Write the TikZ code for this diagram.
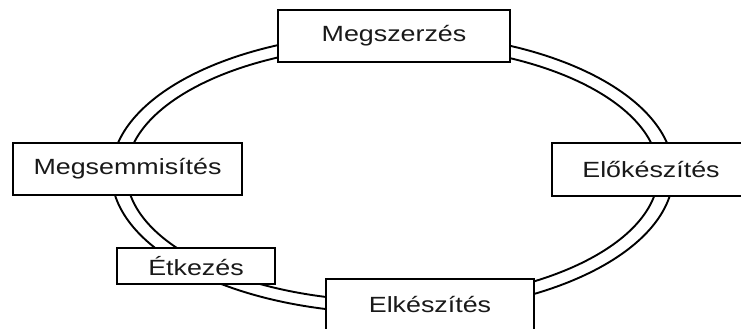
\documentclass[tikz,border=0pt]{standalone}
\usepackage{fontspec}
\newfontfamily\stagefont[FakeStretch=1.22]{Liberation Sans}
\begin{document}
\begin{tikzpicture}[x=1pt,y=-1pt,
  stage/.style={draw=black, line width=1.8pt, fill=white, text=black!90,
    font=\stagefont\fontsize{22}{24}\selectfont, inner sep=0pt},
  ring/.style={draw=black, line width=1.9pt}]
\useasboundingbox (0,0) rectangle (741,329);
\clip (0,0) rectangle (741,329);
% double ring of the cycle
\draw[ring] (392.5,173) ellipse [x radius=281, y radius=140];
\draw[ring] (392.5,173) ellipse [x radius=266, y radius=128];
% stages of the cycle
\node[stage, minimum width=232pt, minimum height=52pt] (acquire) at (394,36) {Megszerzés};
\node[stage, minimum width=198pt, minimum height=53pt] (prepare) at (651,169.5) {Előkészítés};
\node[stage, minimum width=208pt, minimum height=52pt] (cook) at (430,305) {Elkészítés};
\node[stage, minimum width=158pt, minimum height=36pt] (eat) at (196,266) {Étkezés};
\node[stage, minimum width=229pt, minimum height=52pt] (dispose) at (127.5,169) {Megsemmisítés};
\end{tikzpicture}
\end{document}
